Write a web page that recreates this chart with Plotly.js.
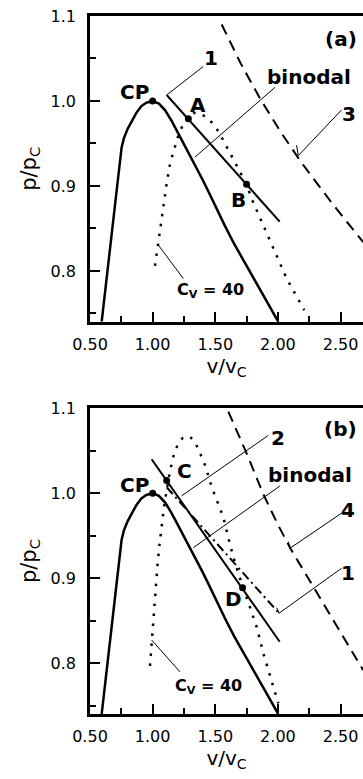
<!DOCTYPE html>
<html>
<head>
<meta charset="utf-8">
<script src="https://cdn.plot.ly/plotly-3.0.1.min.js"></script>
<style>
html,body{margin:0;padding:0;background:#fff;overflow:hidden;}
#chart{width:363px;height:779px;}
</style>
</head>
<body>
<div id="chart"></div>
<script>
// ---- data (v/vc, p/pc) ----
const binodalV = [0.593, 0.666, 0.739, 0.752, 0.770, 0.800, 0.833, 0.870, 0.910, 0.950, 1.000, 1.050, 1.100, 1.150, 1.200, 1.250, 1.300, 1.350, 1.400, 1.450, 1.500, 1.577, 1.650, 1.724, 1.800, 1.900, 2.000];
const binodalP = [0.740, 0.835, 0.930, 0.945, 0.956, 0.967, 0.976, 0.986, 0.994, 0.998, 1.000, 0.997, 0.989, 0.977, 0.963, 0.949, 0.936, 0.922, 0.907, 0.892, 0.876, 0.853, 0.832, 0.813, 0.793, 0.768, 0.741];

const cv40aV = [1.019, 1.050, 1.085, 1.115, 1.140, 1.165, 1.200, 1.235, 1.280, 1.330, 1.380, 1.430, 1.484, 1.530, 1.577, 1.620, 1.660, 1.700, 1.750, 1.790, 1.870, 1.950, 2.070, 2.210];
const cv40aP = [0.806, 0.840, 0.876, 0.906, 0.927, 0.940, 0.957, 0.970, 0.981, 0.986, 0.985, 0.981, 0.973, 0.963, 0.950, 0.938, 0.928, 0.917, 0.902, 0.885, 0.858, 0.830, 0.791, 0.754];

const cv40bV = [0.979, 0.995, 1.010, 1.025, 1.040, 1.055, 1.070, 1.090, 1.112, 1.140, 1.170, 1.205, 1.240, 1.271, 1.300, 1.336, 1.390, 1.418, 1.470, 1.510, 1.564, 1.600, 1.644, 1.690, 1.740, 1.790, 1.830, 1.883, 1.950, 2.003];
const cv40bP = [0.797, 0.830, 0.860, 0.890, 0.918, 0.940, 0.960, 0.983, 1.004, 1.027, 1.046, 1.059, 1.065, 1.067, 1.066, 1.061, 1.043, 1.033, 1.008, 0.993, 0.972, 0.950, 0.925, 0.903, 0.882, 0.862, 0.843, 0.812, 0.780, 0.753];

const line1V = [1.112, 2.014];
const line1P = [1.007, 0.858];
const line2V = [0.992, 2.014];
const line2P = [1.040, 0.8254];

const line3V = [1.551, 1.700, 1.857, 2.020, 2.190, 2.430, 2.680];
const line3P = [1.090, 1.045, 1.003, 0.964, 0.927, 0.880, 0.834];
const line4V = [1.604, 1.750, 1.883, 2.000, 2.100, 2.230, 2.440, 2.680];
const line4P = [1.096, 1.047, 0.999, 0.963, 0.935, 0.903, 0.852, 0.792];

const pointsAV = [1.000, 1.285, 1.750];
const pointsAP = [1.000, 0.979, 0.902];
const pointsBV = [1.000, 1.112, 1.718];
const pointsBP = [1.000, 1.015, 0.889];

// leader lines
const leadersA = [
  {v: [1.112, 1.404], p: [1.007, 1.0406]},
  {v: [1.338, 1.976], p: [0.934, 1.016]},
  {v: [2.149, 2.162, 2.508], p: [0.948, 0.9356, 0.9895]},
  {v: [1.040, 1.245], p: [0.8315, 0.791]}
];
const leadersB = [
  {v: [1.232, 1.923], p: [0.997, 1.068]},
  {v: [1.325, 2.016], p: [0.936, 1.0086]},
  {v: [2.083, 2.096, 2.522], p: [0.943, 0.9353, 0.978]},
  {v: [1.990, 2.008, 2.508], p: [0.8654, 0.8588, 0.9118]},
  {v: [0.992, 1.218], p: [0.8274, 0.790]}
];

// labels
const labelsA = ['(a)', 'binodal', '1', '3', 'CP', 'A', 'B'];
const labelsAV = [2.50, 2.25, 1.463, 2.57, 0.859, 1.364, 1.684];
const labelsAP = [1.073, 1.028, 1.05, 0.985, 1.01, 0.995, 0.8834];
const labelsB = ['(b)', '2', 'binodal', 'CP', 'C', '4', '1', 'D'];
const labelsBV = [2.50, 2.003, 2.256, 0.859, 1.253, 2.56, 2.561, 1.644];
const labelsBP = [1.075, 1.0647, 1.0215, 1.01, 1.0266, 0.980, 0.906, 0.8753];
const cvLabel = 'C<sub>V</sub> = 40';
const cvLabelA = [1.178, 0.777];
const cvLabelB = [1.165, 0.7733];

const xTickVals = [0.5, 1.0, 1.5, 2.0, 2.5];
const yTickVals = [0.8, 0.9, 1.0, 1.1];

// ---- traces ----
const traces = [];
function line(xs, ys, ax, width, dash) {
  traces.push({x: xs, y: ys, xaxis: ax[0], yaxis: ax[1], type: 'scatter', mode: 'lines',
    line: {color: 'black', width: width, dash: dash || 'solid'}, hoverinfo: 'skip'});
}
function pts(xs, ys, ax) {
  traces.push({x: xs, y: ys, xaxis: ax[0], yaxis: ax[1], type: 'scatter', mode: 'markers',
    marker: {color: 'black', size: 7}, hoverinfo: 'skip'});
}
const A = ['x', 'y'], B = ['x2', 'y2'];
// panel a
line(binodalV, binodalP, A, 2.5);
line(cv40aV, cv40aP, A, 2.5, '2.5px,7.5px');
line(line1V, line1P, A, 2);
line(line3V, line3P, A, 2, '11px,7px');
leadersA.forEach(l => line(l.v, l.p, A, 1));
pts(pointsAV, pointsAP, A);
// panel b
line(binodalV, binodalP, B, 2.5);
line(cv40bV, cv40bP, B, 2.5, '2.5px,7.5px');
line(line2V, line2P, B, 2);
line(line1V, line1P, B, 2, '9px,4px,2px,4px');
line(line4V, line4P, B, 2, '11px,7px');
leadersB.forEach(l => line(l.v, l.p, B, 1));
pts(pointsBV, pointsBP, B);

// ---- annotations ----
const bold = {family: 'DejaVu Sans', size: 20, color: 'black', weight: 700};
const annotations = [];
labelsA.forEach((t, i) => annotations.push({x: labelsAV[i], y: labelsAP[i], xref: 'x', yref: 'y', text: t,
  showarrow: false, font: bold, xanchor: 'center', yanchor: 'middle'}));
labelsB.forEach((t, i) => annotations.push({x: labelsBV[i], y: labelsBP[i], xref: 'x2', yref: 'y2', text: t,
  showarrow: false, font: bold, xanchor: 'center', yanchor: 'middle'}));
annotations.push({x: cvLabelA[0], y: cvLabelA[1], xref: 'x', yref: 'y', text: cvLabel, showarrow: false,
  font: Object.assign({}, bold, {size: 16}), xanchor: 'left', yanchor: 'middle'});
annotations.push({x: cvLabelB[0], y: cvLabelB[1], xref: 'x2', yref: 'y2', text: cvLabel, showarrow: false,
  font: Object.assign({}, bold, {size: 16}), xanchor: 'left', yanchor: 'middle'});

// ---- axes ----
function xAxis(anchor) {
  return {anchor: anchor, domain: [0, 1], range: [0.5, 2.679], tickvals: xTickVals, tickformat: '.2f',
    ticks: 'inside', ticklen: 10, tickwidth: 2, tickcolor: 'black', showline: true, linewidth: 2.5,
    linecolor: 'black', mirror: true, showgrid: false, zeroline: false, ticklabelstandoff: 6,
    tickfont: {family: 'DejaVu Sans', size: 16, color: 'black'},
    minor: {ticks: 'inside', ticklen: 6, tickwidth: 2, tickcolor: 'black', tick0: 0.5, dtick: 0.25, showgrid: false},
    title: {text: 'v/v<sub>C</sub>', font: {family: 'DejaVu Sans', size: 20, color: 'black'}, standoff: 3}};
}
function yAxis(anchor, domain) {
  return {anchor: anchor, domain: domain, range: [0.7404, 1.1], tickvals: yTickVals, tickformat: '.1f',
    ticks: 'inside', ticklen: 10, tickwidth: 2, tickcolor: 'black', showline: true, linewidth: 2.5,
    linecolor: 'black', mirror: false, showgrid: false, zeroline: false, ticklabelstandoff: 8,
    tickfont: {family: 'DejaVu Sans', size: 16, color: 'black'},
    minor: {ticks: 'inside', ticklen: 6, tickwidth: 2, tickcolor: 'black', tick0: 0.75, dtick: 0.05, showgrid: false},
    title: {text: 'p/p<sub>C</sub>', font: {family: 'DejaVu Sans', size: 21, color: 'black'}, standoff: 9}};
}

const layout = {
  width: 363, height: 779,
  margin: {l: 90, r: 0, t: 16, b: 65, pad: 0},
  paper_bgcolor: 'white', plot_bgcolor: 'white',
  showlegend: false,
  font: {family: 'DejaVu Sans', size: 16, color: 'black'},
  xaxis: xAxis('y'),
  yaxis: yAxis('x', [0.5622, 1]),
  xaxis2: xAxis('y2'),
  yaxis2: yAxis('x2', [0, 0.4381]),
  annotations: annotations
};

// Plotly pads <sub> with invisible zero-width-space pieces; fold them away
// (keeping the baseline reset) so no empty text pieces remain.
function tidySubscripts(root) {
  const ZW = '\u200b';
  root.querySelectorAll('text').forEach(t => {
    Array.from(t.childNodes).forEach(n => {
      if (n.nodeType === 3) {
        if (n.data.indexOf(ZW) >= 0) {
          n.data = n.data.split(ZW).join('');
          if (n.data === '') n.remove();
        }
      } else if (n.nodeName.toLowerCase() === 'tspan' && n.textContent.split(ZW).join('') === '' ) {
        const dy = n.getAttribute('dy');
        let next = n.nextSibling;
        if (next && dy) {
          if (next.nodeType === 3) {
            const ts = document.createElementNS('http://www.w3.org/2000/svg', 'tspan');
            ts.setAttribute('dy', dy);
            t.insertBefore(ts, next);
            ts.appendChild(next);
          } else if (next.setAttribute) {
            const old = parseFloat(next.getAttribute('dy') || '0');
            next.setAttribute('dy', (old + parseFloat(dy)) + (String(dy).indexOf('em') >= 0 ? 'em' : ''));
          }
        }
        n.remove();
      }
    });
  });
}

Plotly.newPlot('chart', traces, layout, {displayModeBar: false}).then(gd => {
  tidySubscripts(gd);
});
</script>
</body>
</html>
